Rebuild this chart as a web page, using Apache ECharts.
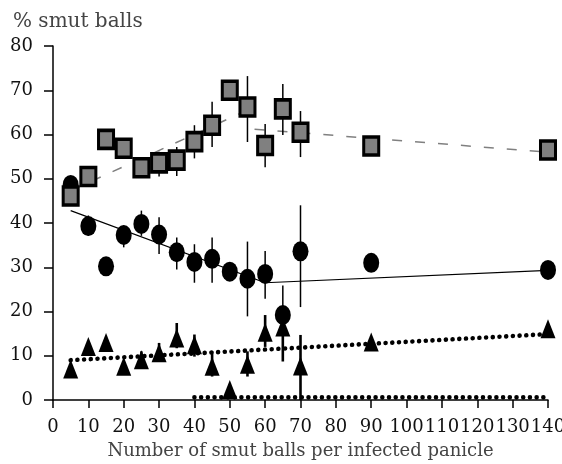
<!DOCTYPE html>
<html>
<head>
<meta charset="utf-8">
<script src="https://cdn.jsdelivr.net/npm/echarts@6/dist/echarts.min.js"></script>
<style>html,body{margin:0;padding:0;background:#fff}#c{width:562px;height:464px}</style>
</head>
<body>
<div id="c"></div>
<script>
// ---- data ----
var xTicks = [0,10,20,30,40,50,60,70,80,90,100,110,120,130,140];
var yTicks = [0,10,20,30,40,50,60,70,80];

var xs = [5,10,15,20,25,30,35,40,45,50,55,60,65,70,90,140];

var squareMean = [46.1,50.5,58.9,56.9,52.5,53.6,54.2,58.4,62.1,70.0,66.2,57.5,65.8,60.5,57.4,56.5];
var squareLow  = [null,null,null,null,50.2,50.5,50.6,54.6,57.2,null,58.3,52.6,59.9,54.9,null,null];
var squareHigh = [null,null,null,null,52.5,56.1,57.2,62.1,67.4,null,73.2,62.4,71.4,65.3,null,null];

var circleMean = [48.6,39.3,30.2,37.3,39.8,37.4,33.4,31.2,31.9,29.0,27.4,28.5,19.2,33.6,31.0,29.4];
var circleLow  = [null,37.1,null,34.5,37.1,33.0,29.5,26.5,26.5,null,18.9,22.9,12.0,21.0,null,null];
var circleHigh = [null,41.7,null,39.4,42.8,41.3,36.7,35.2,36.7,null,35.8,33.7,25.9,44.0,null,null];

var triMean = [7.0,12.1,13.0,7.6,9.1,10.7,14.0,12.5,7.6,2.4,8.1,15.3,16.5,7.7,13.1,16.1];
var triLow  = [null,null,null,null,null,null,11.7,9.8,5.3,null,5.3,12.0,8.7,0.0,null,null];
var triHigh = [null,null,null,null,11.0,12.9,17.4,14.8,11.0,null,11.0,19.2,20.5,14.7,null,null];

var squareTrendX = [5,55];   var squareTrendY = [47.3,65.5];
var squareTrend2X = [57,140]; var squareTrend2Y = [61.2,56.0];
var circleTrendX = [5,60,140]; var circleTrendY = [42.8,26.5,29.3];
var triTrendX = [5,140];     var triTrendY = [9.0,14.9];
var zeroTrendX = [40,140];   var zeroTrendY = [0.6,0.6];

function pairs(a,b){ return a.map(function(v,i){ return [v,b[i]]; }); }
function errSeries(lo,hi,mean,w,z){
  var d=[];
  xs.forEach(function(x,i){
    if(lo[i]==null && hi[i]==null) return;
    var l = lo[i]==null ? mean[i] : lo[i];
    var h = hi[i]==null ? mean[i] : hi[i];
    d.push([x,l,h]);
  });
  return {
    type:'custom', z:z, silent:true,
    data:d,
    encode:{x:0,y:[1,2]},
    renderItem:function(params,api){
      var p1=api.coord([api.value(0),api.value(1)]);
      var p2=api.coord([api.value(0),api.value(2)]);
      return {type:'line',shape:{x1:p1[0],y1:p1[1],x2:p2[0],y2:p2[1]},
              style:{stroke:'#000',lineWidth:w}};
    }
  };
}

var serif = 'DejaVu Serif';
var chart = echarts.init(document.getElementById('c'), null, {renderer:'canvas'});
chart.setOption({
  animation:false,
  backgroundColor:'#fff',
  title:{text:'% smut balls', left:8, top:7,
    textStyle:{fontFamily:serif,fontSize:20,fontWeight:'normal',color:'#444'}},
  grid:{left:53,right:14,top:46,bottom:64,containLabel:false,outerBoundsMode:'none'},
  xAxis:{type:'value',min:0,max:140,interval:10,
    name:'Number of smut balls per infected panicle',nameLocation:'middle',nameGap:42,
    nameTextStyle:{fontFamily:serif,fontSize:18,color:'#444'},
    axisLine:{lineStyle:{color:'#000',width:1.5}},
    axisTick:{length:8,lineStyle:{color:'#000',width:1.5}},
    axisLabel:{fontFamily:serif,fontSize:18,color:'#111',margin:18,
      formatter:function(v){return xTicks.indexOf(v)>=0?String(v):'';}},
    splitLine:{show:false}},
  yAxis:{type:'value',min:0,max:80,interval:10,
    axisLine:{show:true,lineStyle:{color:'#000',width:1.5}},
    axisTick:{show:true,length:9,lineStyle:{color:'#000',width:1.5}},
    axisLabel:{fontFamily:serif,fontSize:18,color:'#111',margin:20,
      formatter:function(v){return yTicks.indexOf(v)>=0?String(v):'';}},
    splitLine:{show:false}},
  series:[
    {type:'line',data:pairs(squareTrendX,squareTrendY),symbol:'none',z:1,silent:true,
      lineStyle:{color:'#808080',width:1.5,type:[10,13]}},
    {type:'line',data:pairs(squareTrend2X,squareTrend2Y),symbol:'none',z:1,silent:true,
      lineStyle:{color:'#808080',width:1.5,type:[10,13]}},
    {type:'line',data:pairs(circleTrendX,circleTrendY),symbol:'none',z:1,silent:true,
      lineStyle:{color:'#000',width:1.2}},
    {type:'line',data:pairs(triTrendX,triTrendY),symbol:'none',z:1,silent:true,
      lineStyle:{color:'#000',width:4.6,type:[0.01,6.7],cap:'round'}},
    {type:'line',data:pairs(zeroTrendX,zeroTrendY),symbol:'none',z:1,silent:true,
      lineStyle:{color:'#000',width:4.6,type:[0.01,6.7],cap:'round'}},
    errSeries(triLow,triHigh,triMean,2.6,2),
    errSeries(circleLow,circleHigh,circleMean,1.5,2),
    errSeries(squareLow,squareHigh,squareMean,1.5,2),
    {type:'scatter',data:pairs(xs,triMean),symbol:'triangle',symbolSize:[15,19],z:3,
      itemStyle:{color:'#000',opacity:1}},
    {type:'scatter',data:pairs(xs,circleMean),symbol:'circle',symbolSize:[16,20],z:4,
      itemStyle:{color:'#000',opacity:1}},
    {type:'scatter',data:pairs(xs,squareMean),symbol:'rect',symbolSize:[15,18],z:5,
      itemStyle:{color:'#808080',borderColor:'#000',borderWidth:3.3,opacity:1}}
  ]
});
</script>
</body>
</html>
